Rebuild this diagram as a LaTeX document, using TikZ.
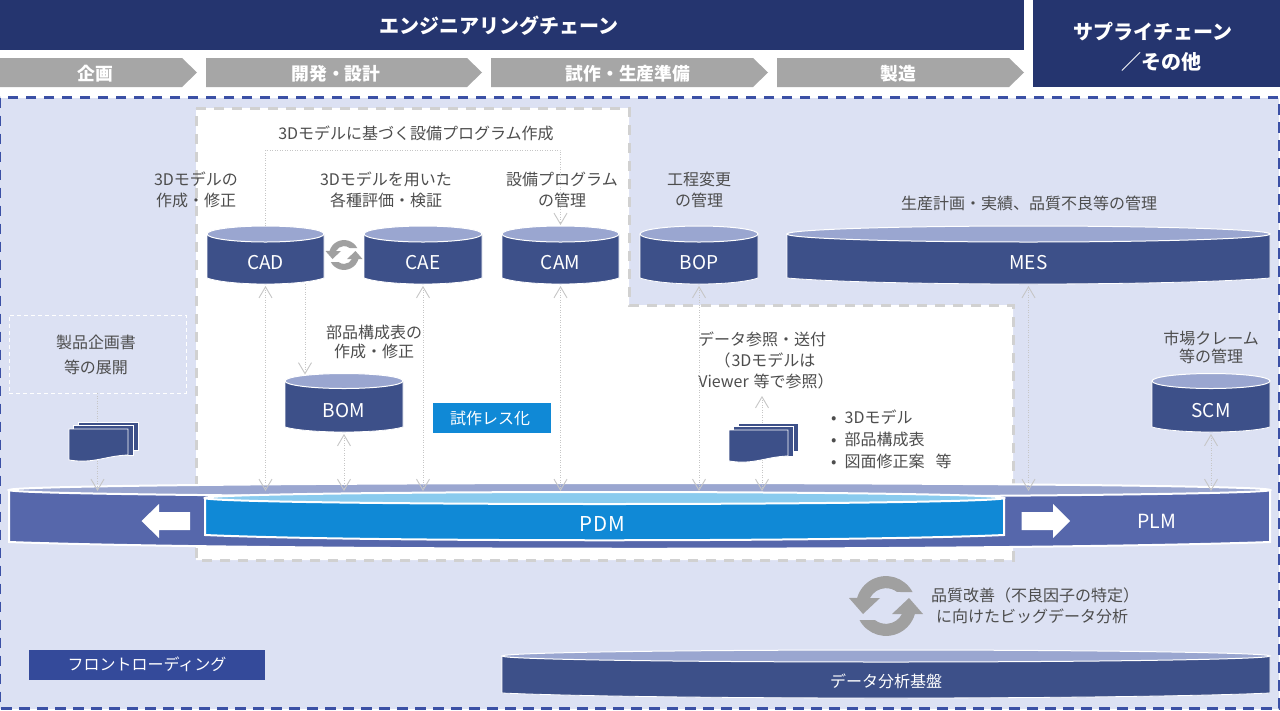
\documentclass[tikz,border=0pt]{standalone}
\usepackage{fontspec}
\setmainfont{Noto Sans CJK JP}
\usetikzlibrary{arrows.meta,calc}
\definecolor{navy}{HTML}{25356F}
\definecolor{chev}{HTML}{A6A6A6}
\definecolor{zone}{HTML}{DCE1F3}
\definecolor{zoneedge}{HTML}{3B50A5}
\definecolor{dbdark}{HTML}{3D5089}
\definecolor{dbtop}{HTML}{9AA6D0}
\definecolor{ringbody}{HTML}{5667AB}
\definecolor{pdmblue}{HTML}{1089D6}
\definecolor{pdmtop}{HTML}{8ACBEE}
\definecolor{badgeb}{HTML}{344A9A}
\definecolor{txt}{HTML}{4D4D4D}
\definecolor{conn}{HTML}{C6C6C6}
\definecolor{syncg}{HTML}{A0A0A0}
\tikzset{
  lbl/.style={font=\fontsize{16}{21}\selectfont,text=txt,align=center,inner sep=0pt},
  lbltight/.style={font=\fontsize{16}{19.5}\selectfont,text=txt,align=center,inner sep=0pt},
  whitelbl/.style={font=\fontsize{16}{21}\selectfont,text=white,align=center,inner sep=0pt},
  dblbl/.style={font=\fontsize{19}{22}\selectfont,text=white,inner sep=0pt},
  headlbl/.style={font=\fontsize{20}{30}\selectfont\bfseries,text=white,align=center,inner sep=0pt},
  chevlbl/.style={font=\fontsize{17.8}{20}\selectfont\bfseries,text=white,inner sep=0pt},
  dbbox/.style={inner sep=0pt,outer sep=0pt,draw=none},
  link/.style={draw=conn,line width=.7pt,dash pattern=on 1pt off 1.5pt},
  both/.style={link,{Straight Barb[length=11pt,width=13pt,line width=.9pt]}-{Straight Barb[length=11pt,width=13pt,line width=.9pt]},shorten <=2pt},
  onehead/.style={link,-{Straight Barb[length=11pt,width=13pt,line width=.9pt]}},
  chevron/.style={fill=chev},
  badge/.style={whitelbl,minimum height=30pt},
}
% name, x1, x2, yc, ry, ysb, yb, label y, label
\newcommand\dbcyl[9]{%
  \pgfmathsetmacro\cw{#3-#2}%
  \pgfmathsetmacro\cxx{(#2+#3)/2}%
  \pgfmathsetmacro\crx{(#3-#2)/2}%
  \pgfmathsetmacro\cca{#2+.2*\cw}%
  \pgfmathsetmacro\ccb{#3-.2*\cw}%
  \pgfmathsetmacro\ccy{#6+(#7-#6)/.75}%
  \pgfmathsetmacro\cmid{(#4-#5+#7)/2}%
  \pgfmathsetmacro\chgt{#7-#4+#5}%
  \fill[dbdark,draw=white,line width=.8pt] (#2,#4) -- (#2,#6) .. controls (\cca,\ccy) and (\ccb,\ccy) .. (#3,#6) -- (#3,#4) -- cycle;
  \draw[fill=dbtop,draw=white,line width=1pt] (\cxx,#4) ellipse [x radius=\crx pt,y radius=#5 pt];
  \node[dbbox,minimum width=\cw pt,minimum height=\chgt pt] (#1) at (\cxx,\cmid) {};
  \node[dblbl] (#1-label) at (\cxx,#8) {#9};
}
% stack of sheets, front sheet's top-left x,y
\newcommand\docstack[2]{%
  \begin{scope}[shift={(#1,#2)},draw=white,fill=dbdark,line width=.9pt]
    \filldraw (9,-7) rectangle (69,21);
    \filldraw (4.5,-4) rectangle (64.5,26);
    \filldraw (0,0) -- (59,0) -- (59,26) .. controls (35,27) and (25,35) .. (0,31) -- cycle;
  \end{scope}
}
\newcommand\syncicon[3]{%
  \begin{scope}[shift={(#1,#2)},x=#3pt,y=#3pt]
    \foreach \rr in {0,180}{
    \fill[syncg,rotate=\rr] (26.5,14) arc[start angle=28,end angle=164,radius=30]
      -- (-37,8) -- (-23,-8) -- (-6,8) -- (-16,8) arc[start angle=153,end angle=52,radius=18] -- cycle;
    }
  \end{scope}
}
\begin{document}
\begin{tikzpicture}[x=1pt,y=-1pt]
\useasboundingbox (0,0) rectangle (1280,710);
\fill[white] (0,0) rectangle (1280,710);
% headers
\node[fill=navy,minimum width=1024pt,minimum height=50pt,inner sep=0pt,outer sep=0pt,headlbl] (eng) at (512,25) {};
\node[headlbl] (engt) at (499,26) {エンジニアリングチェーン};
\node[fill=navy,minimum width=247pt,minimum height=87pt,inner sep=0pt,headlbl] (sup) at (1156.5,43.5) {};
\node[headlbl] (supt) at (1153,46.5) {サプライチェーン\\\kern17pt ／その他};
% chevrons
\fill[chevron] (0,58) -- (182,58) -- (197,72.5) -- (182,87) -- (0,87) -- cycle;
\fill[chevron] (206,58) -- (467,58) -- (482,72.5) -- (467,87) -- (206,87) -- cycle;
\fill[chevron] (491,58) -- (753,58) -- (768,72.5) -- (753,87) -- (491,87) -- cycle;
\fill[chevron] (777,58) -- (1009,58) -- (1024,72.5) -- (1009,87) -- (777,87) -- cycle;
\node[chevlbl] (p1) at (95,74) {企画};
\node[chevlbl] (p2) at (336,74) {開発・設計};
\node[chevlbl] (p3) at (628,74) {試作・生産準備};
\node[chevlbl] (p4) at (898,74) {製造};
% zones
\draw[fill=zone,draw=zoneedge,line width=2.5pt,dash pattern=on 10.5pt off 7.5pt] (0,97.5) rectangle (1279,708.5);
\draw[fill=white,draw=black!18,line width=3pt,dash pattern=on 10pt off 8pt] (196,108) -- (629,108) -- (629,305) -- (1013,305) -- (1013,560) -- (196,560) -- cycle;
\node[draw=white,line width=1pt,dash pattern=on 4pt off 3pt,minimum width=177pt,minimum height=78pt,inner sep=0pt,outer sep=0pt] (plan) at (97.5,354) {};
\node[lbl,font=\fontsize{16}{25}\selectfont] (plant) at (96,354.5) {製品企画書\\等の展開};
% texts
\node[lbl] (t1) at (416,133) {3Dモデルに基づく設備プログラム作成};
\node[lbl] (t2) at (196,189.5) {3Dモデルの\\作成・修正};
\node[lbl] (t3) at (386,189.5) {3Dモデルを用いた\\各種評価・検証};
\node[lbl] (t4) at (562,189.5) {設備プログラム\\の管理};
\node[lbl] (t5) at (699,189.5) {工程変更\\の管理};
\node[lbl] (t6) at (1029,203) {生産計画・実績、品質不良等の管理};
\node[lbltight] (t7) at (374,342) {部品構成表の\\作成・修正};
\node[lbl] (t8) at (762,360) {データ参照・送付\\\kern6pt（\kern1pt 3Dモデルは\\\kern8pt Viewer\kern5pt 等で参照）};
\node[lbl,align=left,anchor=west,font=\fontsize{16}{22}\selectfont] (t9) at (831,439) {•\kern8pt 3Dモデル\\•\kern8pt 部品構成表\\•\kern8pt 図面修正案\kern11pt 等};
\node[lbl,font=\fontsize{16}{18}\selectfont] (t10) at (1211,347) {市場クレーム\\等の管理};
\node[lbl] (t11) at (1035,605.5) {品質改善（不良因子の特定）\\に向けたビッグデータ分析\kern6pt};
% cylinders
\dbcyl{cad}{207}{324}{234}{8}{278}{284}{263}{CAD}
\dbcyl{cae}{364}{482}{234}{8}{278}{284}{263}{CAE}
\dbcyl{cam}{502}{619}{234}{8}{278}{284}{263}{CAM}
\dbcyl{bop}{640}{758}{234}{8}{278}{284}{263}{BOP}
\dbcyl{mes}{787}{1270}{234}{8}{278}{284}{263}{MES}
\dbcyl{bom}{285}{403}{381}{7.5}{427}{432}{411}{BOM}
\dbcyl{scm}{1152}{1270}{381}{7.5}{427}{432}{411}{SCM}
\dbcyl{dat}{502}{1270}{656}{6}{693}{698}{681}{}
\node[whitelbl] (datl) at (886,681) {データ分析基盤};
% sync icons
\syncicon{344}{255}{.5}
\syncicon{886}{606}{1}
% badges
\node[fill=pdmblue,minimum width=118pt,badge,inner sep=0pt] (less) at (492,418) {試作レス化\kern4pt};
\node[fill=badgeb,minimum width=236pt,badge,inner sep=0pt] (front) at (147,664.5) {フロントローディング};
\coordinate (rail) at (0,491);
\coordinate (progtop) at (0,150);
\coordinate (viewer) at (762,394);
% PLM ring
\fill[ringbody,draw=white,line width=2pt] (9,490) -- (9,542) .. controls (260,551) and (1019,551) .. (1270,542) -- (1270,490) -- cycle;
\draw[fill=dbtop,draw=white,line width=2pt] (639.5,490) ellipse [x radius=630.5pt,y radius=7pt];
\node[dbbox,minimum width=1261pt,minimum height=66pt] (plm) at (639.5,516) {};
\node[font=\fontsize{19.5}{22}\selectfont,text=white,inner sep=0pt] (plmt) at (1157,521) {PLM};
% PDM
\fill[pdmblue,draw=white,line width=2pt] (205,498) -- (205,535) .. controls (365,542) and (844,542) .. (1004,535) -- (1004,498) -- cycle;
\draw[fill=pdmtop,draw=white,line width=2pt] (604.5,498) ellipse [x radius=399.5pt,y radius=6pt];
\node[dbbox,minimum width=799pt,minimum height=48pt] (pdm) at (604.5,516) {};
\node[font=\fontsize{20.5}{24}\selectfont,text=white,inner sep=0pt] (pdmt) at (602,524) {P\kern1pt D\kern1pt M};
% big arrows
\fill[white] (141.5,521) -- (159,504) -- (159,512) -- (190,512) -- (190,530) -- (159,530) -- (159,538) -- cycle;
\fill[white] (1070,521) -- (1053,504) -- (1053,512) -- (1021.5,512) -- (1021.5,530) -- (1053,530) -- (1053,538) -- cycle;
% connectors
\draw[link,-{Straight Barb[length=11pt,width=13pt,line width=.9pt]}] (cad.north) |- (cam.north |- progtop) -- ([yshift=1pt]cam.north);
\draw[both] (cad.south) -- (cad.south |- rail);
\draw[both] (cae.south) -- (cae.south |- rail);
\draw[both] (cam.south) -- (cam.south |- rail);
\draw[both] (bop.south) -- (bop.south |- rail);
\draw[both] (bom.south) -- (bom.south |- rail);
\draw[both] (scm.south) -- (scm.south |- rail);
\draw[both] (mes.south) -- (mes.south |- rail);
\draw[onehead] ([xshift=39.5pt]cad.south) -- ([xshift=39.5pt,yshift=-1pt]cad.south |- bom.north);
\draw[both] (viewer) -- (viewer |- rail);
\draw[onehead] (plan.south) -- (plan.south |- rail);
% doc stacks over the connectors
\docstack{69}{429}
\docstack{729}{430}
\end{tikzpicture}
\end{document}
